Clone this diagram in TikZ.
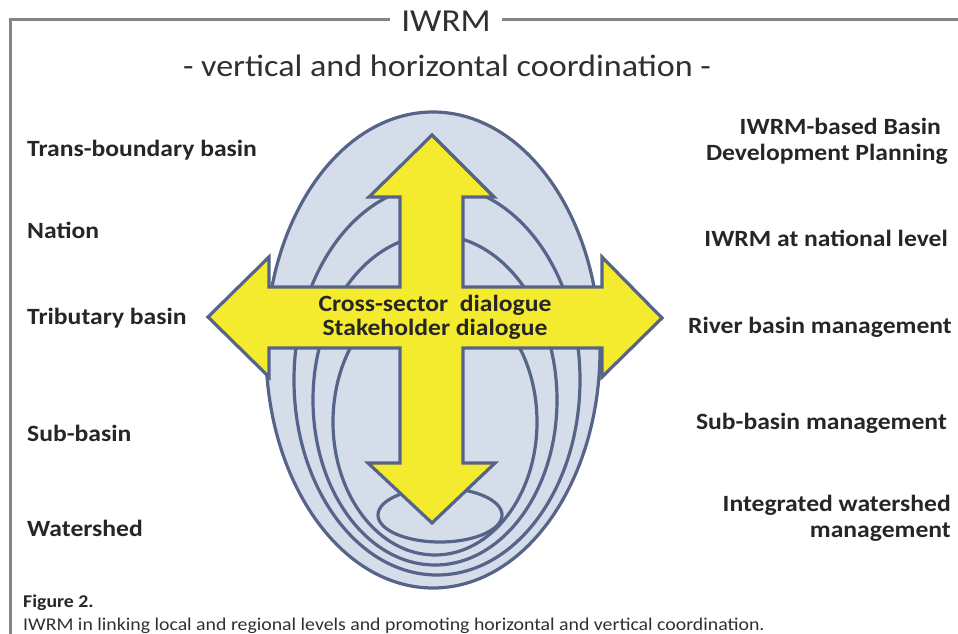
\documentclass[tikz,border=0pt]{standalone}
\usepackage{fontspec}
\setmainfont{Carlito}[FakeStretch=1.1]
\definecolor{framegray}{HTML}{858585}
\definecolor{zoneline}{HTML}{56648A}
\definecolor{zonefill}{HTML}{D5DCEA}
\definecolor{arrowfill}{HTML}{F4EA2E}
\definecolor{labeltext}{HTML}{262626}
\definecolor{titletext}{HTML}{303030}
\begin{document}
\begin{tikzpicture}[x=1pt,y=-1pt,
  frameline/.style={draw=framegray,line width=3pt},
  zone/.style={draw=zoneline,fill=zonefill,line width=3.2pt},
  crossarrow/.style={draw=zoneline,fill=arrowfill,line width=3.2pt,line join=miter},
  lvl/.style={font=\fontsize{23.3}{26}\selectfont\bfseries,text=labeltext,inner sep=0pt},
  mgmt/.style={lvl,align=right,anchor=east},
  levelname/.style={lvl,anchor=west}]
\useasboundingbox (0,0) rectangle (958,634);

% frame with the title set into its top edge
\node[font=\fontsize{32}{36}\selectfont,text=titletext,inner sep=0pt] (title) at (446,21) {IWRM};
\node[font=\fontsize{31}{36}\selectfont,text=titletext,inner sep=0pt] (subtitle) at (447,66) {- vertical and horizontal coordination -};
\draw[frameline] (10,634) -- (10,20) -- (390,20);
\draw[frameline] (502,20) -- (958,20);

% nested basin zones, outermost first
\draw[zone] (433,350) ellipse [x radius=167, y radius=238];
\draw[zone] (437,380) ellipse [x radius=143, y radius=195];
\draw[zone] (435,400) ellipse [x radius=122, y radius=165];
\draw[zone] (435,422) ellipse [x radius=102, y radius=133];
\draw[zone] (440,515) ellipse [x radius=62, y radius=27];

% four-way coordination arrow
\draw[crossarrow] (432,135) -- (494,197) -- (463,197) -- (463,287) -- (602,287)
  -- (602,257) -- (662,318) -- (602,377) -- (602,348) -- (463,348) -- (463,463)
  -- (495,463) -- (432,523) -- (368,463) -- (400,463) -- (400,348) -- (269,348)
  -- (269,377) -- (208,317) -- (269,257) -- (269,287) -- (400,287) -- (400,197)
  -- (369,197) -- cycle;
\node[lvl,align=center,font=\fontsize{23.3}{24}\selectfont\bfseries] (dialogue) at (435,317) {Cross-sector\ \ dialogue\\Stakeholder dialogue};

% spatial levels
\node[levelname] (transb) at (27,150) {Trans-boundary basin};
\node[levelname] (nation) at (27,230) {Nation};
\node[levelname] (tribut) at (27,318) {Tributary basin};
\node[levelname] (subb) at (27,433) {Sub-basin};
\node[levelname] (wshed) at (27,528) {Watershed};

% management at each level
\node[mgmt] (bdp) at (948,141) {IWRM-based Basin\hspace*{0.3em}\\Development Planning};
\node[mgmt] (natl) at (948,238) {IWRM at national level};
\node[mgmt] (rbm) at (952,327) {River basin management};
\node[mgmt] (sbm) at (947,423) {Sub-basin management};
\node[mgmt] (iwm) at (951,518) {Integrated watershed\\management};

% caption
\node[anchor=west,inner sep=0pt,font=\fontsize{18}{20}\selectfont\bfseries,text=labeltext] (figno) at (23,603) {Figure 2.};
\node[anchor=west,inner sep=0pt,font=\fontsize{18}{20}\selectfont,text=titletext] (caption) at (23,626) {IWRM in linking local and regional levels and promoting horizontal and vertical coordination.};
\end{tikzpicture}
\end{document}
